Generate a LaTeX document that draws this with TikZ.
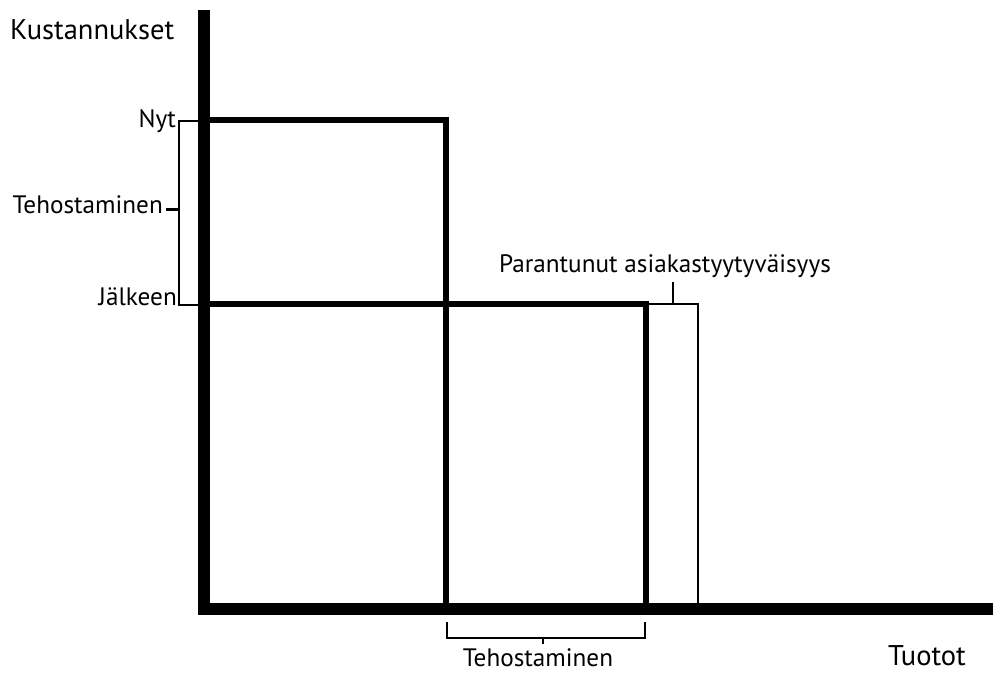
\documentclass[tikz,border=0pt]{standalone}
\usepackage{fontspec}
\setmainfont{PT Sans}
\usetikzlibrary{positioning}
\tikzset{
  axis/.style={line width=12pt},
  bar/.style={line width=6pt},
  bracket/.style={line width=1.8pt},
  lbl/.style={font=\fontsize{25.2}{28}\selectfont, inner sep=0pt},
  axislbl/.style={font=\fontsize{28.5}{32}\selectfont, inner sep=0pt}
}

\begin{document}
\begin{tikzpicture}[x=1pt,y=-1pt]
  \useasboundingbox (0,0) rectangle (993,673);
  % axes
  \coordinate (top) at (204,10);
  \coordinate (O) at (204,609);
  \coordinate (end) at (993,609);
  % cost levels
  \coordinate (nyt) at (204,120);
  \coordinate (jalk) at (204,304);
  \coordinate (nytx) at (446,120);
  \coordinate (jalkx) at (646,304);
  \coordinate (para) at (698,304);

  \draw[axis] (top) |- (end);
  \draw[bar] (nyt) -| (nytx |- O);
  \draw[bar] (jalk) -| (jalkx |- O);
  \draw[bracket] (jalkx) -- (para) -- (para |- O);

  % bracket on the cost axis
  \coordinate (bn) at (179,121);
  \coordinate (bj) at (179,305);
  \coordinate (bm) at (179,209);
  \draw[bracket] (198,121) -- (bn) -- (bj) -- (198,305);
  \draw[line width=3pt] (bm) -- ++(-13,0) coordinate (bt);

  % bracket on the revenue axis
  \coordinate (bl) at (447,638);
  \coordinate (br) at (645,638);
  \coordinate (bc) at (543,638);
  \draw[bracket] (447,622) -- (bl) -- (br) -- (645,622);
  \draw[bracket] (bc) -- ++(0,6) coordinate (bb);

  % tick for the satisfaction label
  \coordinate (pt) at (673,304);
  \draw[bracket] (pt) -- ++(0,-22) coordinate (ptt);

  % labels
  \node[axislbl, anchor=base west] (kust) at (10,39) {Kustannukset};
  \node[lbl, anchor=base east] (nytl) at (176,127) {Nyt};
  \node[lbl, anchor=base east] (teho) at (163,213) {Tehostaminen};
  \node[lbl, anchor=base east] (jalkl) at (177,305) {Jälkeen};
  \node[lbl, anchor=base] (paral) at (665,272) {Parantunut asiakastyytyväisyys};
  \node[lbl, anchor=base] (teho2) at (538,666) {Tehostaminen};
  \node[axislbl, anchor=base east] (tuot) at (966,665) {Tuotot};
\end{tikzpicture}
\end{document}
